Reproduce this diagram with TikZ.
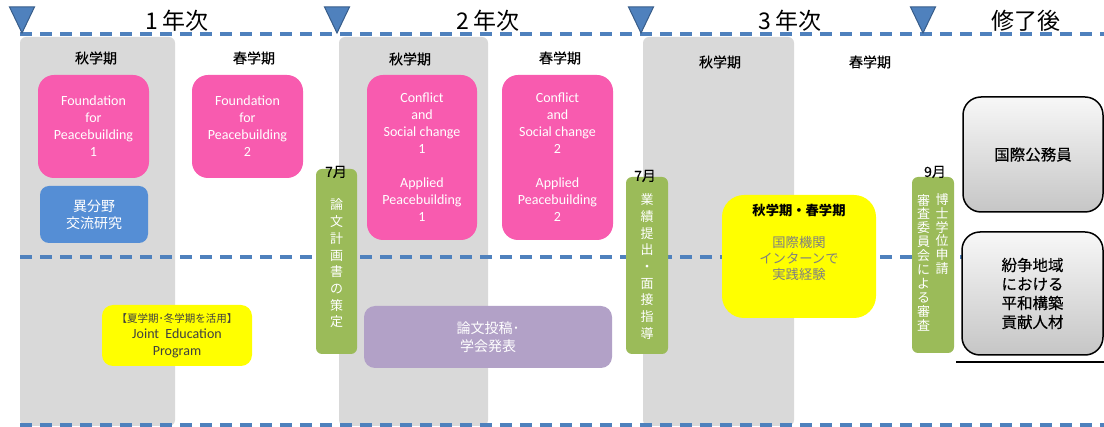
\documentclass[tikz,border=0pt]{standalone}
\usepackage{fontspec}
\setmainfont{Carlito}
\newfontfamily\jp{Noto Sans CJK JP}
\newfontfamily\jpm{Noto Sans CJK JP}[FakeBold=0.3]
\usetikzlibrary{shadows}
\definecolor{colgrey}{HTML}{D9D9D9}
\definecolor{lineblue}{HTML}{4F81BD}
\definecolor{triedge}{HTML}{385D8A}
\definecolor{pinkc}{HTML}{F85BAF}
\definecolor{bluec}{HTML}{558ED5}
\definecolor{greenc}{HTML}{9BBB59}
\definecolor{purplec}{HTML}{B2A1C7}
\definecolor{yellowc}{HTML}{FFFF00}
\definecolor{darktext}{HTML}{404040}
\definecolor{greytext}{HTML}{7F7F7F}
\begin{document}
\begin{tikzpicture}[x=1pt,y=-1pt,
  col/.style={fill=colgrey, rounded corners=6pt},
  dline/.style={draw=lineblue, line width=3.5pt, dash pattern=on 12pt off 8pt},
  tri/.style={fill=lineblue, draw=triedge, line width=1pt},
  yearlbl/.style={font=\jp\fontsize{23}{26}\selectfont, inner sep=0pt},
  semlbl/.style={font=\jpm\fontsize{14}{16}\selectfont, inner sep=0pt},
  box/.style={rectangle, inner sep=0pt, align=center},
  pinkbox/.style={box, fill=pinkc, rounded corners=16pt, text=white, font=\fontsize{14}{17}\selectfont},
  bluebox/.style={box, fill=bluec, rounded corners=9pt, text=white, font=\jp\fontsize{14}{17}\selectfont},
  greenbox/.style={box, fill=greenc, rounded corners=6pt},
  vtext/.style={inner sep=0pt, align=center, text=white, font=\jp\fontsize{13}{16.7}\selectfont},
  vtextt/.style={inner sep=0pt, align=center, text=white, font=\jp\fontsize{13}{13.9}\selectfont},
  monthlbl/.style={inner sep=0pt, font=\jpm\fontsize{14}{15}\selectfont},
  greybox/.style={box, draw=black, line width=1.5pt, rounded corners=18pt, top color=gray!6, bottom color=gray!45, font=\jpm\fontsize{15.5}{19}\selectfont}
]
\useasboundingbox (0,0) rectangle (1104,427);
% grey semester columns
\fill[col] (20,37) rectangle (175,426);
\fill[col] (339,37) rectangle (488,426);
\fill[col] (643,37) rectangle (794,426);
% dashed lines
\coordinate (tl) at (20,34);
\coordinate (tr) at (1104,34);
\coordinate (ml) at (20,257);
\coordinate (mr) at (1104,257);
\coordinate (bl) at (20,425);
\coordinate (br) at (1104,425);
\draw[dline] (tl) -- (tr);
\draw[dline] (ml) -- (mr);
\draw[dline] (bl) -- (br);
% triangles
\foreach \cx in {22,337,641,923}{
  \draw[tri] (\cx-12.5,7) -- (\cx+12.5,7) -- (\cx,33) -- cycle;
}
% year labels
\node[yearlbl] (y1) at (177,21) {1\,年次};
\node[yearlbl] (y2) at (488,21) {2\,年次};
\node[yearlbl] (y3) at (790,21) {3\,年次};
\node[yearlbl] (y4) at (1026,21) {修了後};
% semester labels
\node[semlbl] (s1) at (96,58) {秋学期};
\node[semlbl] (s2) at (254,58) {春学期};
\node[semlbl] (s3) at (410,59) {秋学期};
\node[semlbl] (s4) at (560,58) {春学期};
\node[semlbl] (s5) at (720,62) {秋学期};
\node[semlbl] (s6) at (870,62) {春学期};
% pink boxes
\node[pinkbox, minimum width=111pt, minimum height=103pt] (p1) at (93.5,126.5) {Foundation\\for\\Peacebuilding\\1};
\node[pinkbox, minimum width=111pt, minimum height=103pt] (p2) at (247.5,126.5) {Foundation\\for\\Peacebuilding\\2};
\node[pinkbox, minimum width=110pt, minimum height=165pt] (p3) at (422,157.5) {Conflict\\and\\Social change\\1\\[17pt]Applied\\Peacebuilding\\1};
\node[pinkbox, minimum width=111pt, minimum height=165pt] (p4) at (557.5,157.5) {Conflict\\and\\Social change\\2\\[17pt]Applied\\Peacebuilding\\2};
% blue box
\node[bluebox, minimum width=108pt, minimum height=57pt] (b1) at (94,214.5) {異分野\\交流研究};
% yellow box 1
\node[box, fill=yellowc, rounded corners=11pt, minimum width=150pt, minimum height=61pt, text=darktext, font=\fontsize{14}{16.5}\selectfont] (j1) at (177,335.5)
  {{\jp\fontsize{10.5}{16.5}\selectfont 【夏学期･冬学期を活用】}\\Joint\ \ Education\\Program};
% purple box
\node[box, fill=purplec, rounded corners=11pt, minimum width=248pt, minimum height=62pt, text=white, font=\jp\fontsize{14}{18}\selectfont] (pu) at (488,337) {論文投稿･\\学会発表};
% yellow box 2
\node[box, fill=yellowc, rounded corners=22pt, minimum width=154pt, minimum height=123pt] (j2) at (799,256.5) {};
\node[inner sep=0pt, align=center, font=\jp\fontsize{13.3}{16}\selectfont] (j2t) at (799,242)
  {\textbf{秋学期・春学期}\\[16pt]\textcolor{greytext}{国際機関}\\\textcolor{greytext}{インターンで}\\\textcolor{greytext}{実践経験}};
% green boxes
\node[greenbox, minimum width=41pt, minimum height=185pt] (g1) at (336.5,261.5) {};
\node[vtext] (g1t) at (336.5,263.5) {論\\文\\計\\画\\書\\の\\策\\定};
\node[monthlbl] (m1) at (336,172) {7月};
\node[greenbox, minimum width=42pt, minimum height=177pt] (g2) at (647,265.5) {};
\node[vtext] (g2t) at (647,266.5) {業\\績\\提\\出\\・\\面\\接\\指\\導};
\node[monthlbl] (m2) at (645,176) {7月};
\node[greenbox, minimum width=42pt, minimum height=176pt] (g3) at (933,265) {};
\node[vtextt] (g3r) at (942,234) {博\\士\\学\\位\\申\\請};
\node[vtextt] (g3l) at (923.5,262.5) {審\\査\\委\\員\\会\\に\\よ\\る\\審\\査};
\node[monthlbl] (m3) at (935,172) {9月};
% outcome boxes
\node[greybox, minimum width=140pt, minimum height=115pt] (o1) at (1033,154.5) {国際公務員};
\node[greybox, minimum width=141pt, minimum height=123pt] (o2) at (1032.5,293.5) {紛争地域\\における\\平和構築\\貢献人材};
\coordinate (ul) at (956,362);
\coordinate (ur) at (1104,362);
\draw[black, line width=1.3pt] (ul) -- (ur);
\end{tikzpicture}
\end{document}
